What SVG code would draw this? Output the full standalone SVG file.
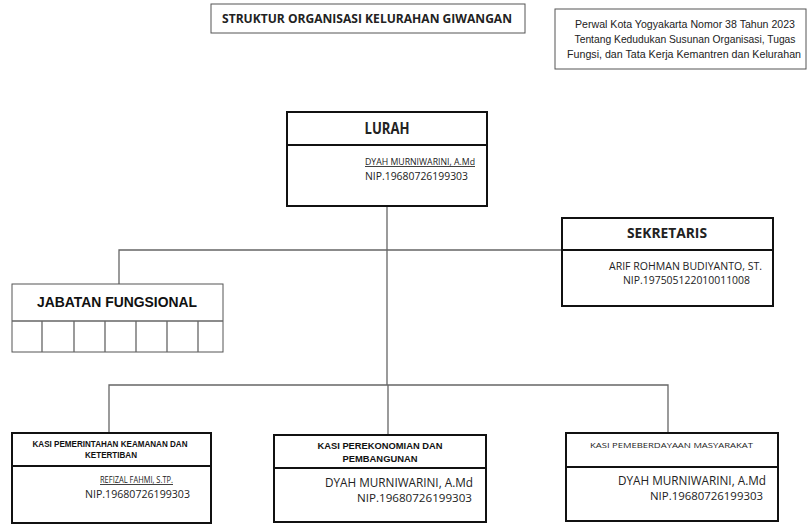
<svg xmlns="http://www.w3.org/2000/svg" width="809" height="524" viewBox="0 0 809 524">
<style>
.box{fill:#fff;stroke:#111;stroke-width:2}
.thin{fill:#fff;stroke:#555;stroke-width:1}
.conn{fill:none;stroke:#666;stroke-width:1.3}
.c{font-family:"Open Sans","Liberation Sans",sans-serif;fill:#222}
.p{font-family:"Liberation Sans",Arial,sans-serif;fill:#222;font-size:10.3px}
.a{font-family:"Liberation Sans",Arial,sans-serif;font-weight:bold;fill:#111}
</style>
<rect width="809" height="524" fill="#fff"/>
<g id="title">
<rect class="thin" x="211" y="4" width="314" height="29"/>
<text class="c" x="367" y="23" font-size="12.5" font-weight="bold" text-anchor="middle" textLength="290" lengthAdjust="spacingAndGlyphs">STRUKTUR ORGANISASI KELURAHAN GIWANGAN</text>
</g>
<g id="perwal">
<rect class="thin" x="555" y="9" width="251" height="60"/>
<text class="p" text-anchor="middle" x="685" y="28" textLength="220" lengthAdjust="spacingAndGlyphs">Perwal Kota Yogyakarta Nomor 38 Tahun 2023</text>
<text class="p" text-anchor="middle" x="685" y="43" textLength="221" lengthAdjust="spacingAndGlyphs">Tentang Kedudukan Susunan Organisasi, Tugas</text>
<text class="p" text-anchor="middle" x="684" y="58" textLength="234" lengthAdjust="spacingAndGlyphs">Fungsi, dan Tata Kerja Kemantren dan Kelurahan</text>
</g>
<g id="connectors">
<path class="conn" d="M387 206V385M119 284V250H562M109 433V385H668V433M388 385V435"/>
</g>
<g id="lurah">
<rect class="box" x="287" y="112" width="200" height="94"/>
<line class="box" x1="287" y1="145" x2="487" y2="145"/>
<text class="c" x="387" y="134" font-size="16" font-weight="bold" text-anchor="middle" textLength="45" lengthAdjust="spacingAndGlyphs">LURAH</text>
<text class="c" x="365" y="165" font-size="8.5" text-decoration="underline" textLength="110" lengthAdjust="spacingAndGlyphs">DYAH MURNIWARINI, A.Md</text>
<text class="c" x="365" y="180" font-size="11.5" textLength="103" lengthAdjust="spacingAndGlyphs">NIP.19680726199303</text>
</g>
<g id="sekretaris">
<rect class="box" x="562" y="218" width="211" height="88"/>
<line class="box" x1="562" y1="250" x2="773" y2="250"/>
<text class="c" x="667" y="238" font-size="15" font-weight="bold" text-anchor="middle" textLength="80" lengthAdjust="spacingAndGlyphs">SEKRETARIS</text>
<text class="c" x="609" y="270" font-size="11" textLength="153" lengthAdjust="spacingAndGlyphs">ARIF ROHMAN BUDIYANTO, ST.</text>
<text class="c" x="623" y="284" font-size="11" textLength="127" lengthAdjust="spacingAndGlyphs">NIP.197505122010011008</text>
</g>
<g id="jabatan">
<rect class="thin" x="12" y="284" width="211" height="68" stroke="#333"/>
<path class="conn" stroke="#444" d="M12 321H223M42 321V352M74 321V352M105 321V352M136 321V352M167 321V352M198 321V352"/>
<text class="a" x="117" y="307" font-size="15" text-anchor="middle" textLength="160" lengthAdjust="spacingAndGlyphs">JABATAN FUNGSIONAL</text>
</g>
<g id="kasi1">
<rect class="box" x="12" y="433" width="199" height="90"/>
<line class="box" x1="12" y1="466" x2="211" y2="466"/>
<text class="a" font-size="9" text-anchor="middle" x="110" y="447" textLength="155" lengthAdjust="spacingAndGlyphs">KASI PEMERINTAHAN KEAMANAN DAN</text>
<text class="a" font-size="9" text-anchor="middle" x="111" y="458" textLength="52" lengthAdjust="spacingAndGlyphs">KETERTIBAN</text>
<text class="c" x="100" y="483" font-size="8.5" text-decoration="underline" textLength="73" lengthAdjust="spacingAndGlyphs">REFIZAL FAHMI, S.TP.</text>
<text class="c" x="85" y="498" font-size="11.5" textLength="105" lengthAdjust="spacingAndGlyphs">NIP.19680726199303</text>
</g>
<g id="kasi2">
<rect class="box" x="274" y="435" width="212" height="87"/>
<line class="box" x1="274" y1="468" x2="486" y2="468"/>
<text class="a" font-size="9" text-anchor="middle" x="380" y="449" textLength="125" lengthAdjust="spacingAndGlyphs">KASI PEREKONOMIAN DAN</text>
<text class="a" font-size="9" text-anchor="middle" x="380" y="462" textLength="75" lengthAdjust="spacingAndGlyphs">PEMBANGUNAN</text>
<text class="c" x="325" y="487" font-size="12" textLength="148" lengthAdjust="spacingAndGlyphs">DYAH MURNIWARINI, A.Md</text>
<text class="c" x="357" y="502" font-size="11.5" textLength="115" lengthAdjust="spacingAndGlyphs">NIP.19680726199303</text>
</g>
<g id="kasi3">
<rect class="box" x="566" y="433" width="212" height="88"/>
<line class="box" x1="566" y1="467" x2="778" y2="467"/>
<text class="c" x="590" y="448" font-size="8" textLength="163" lengthAdjust="spacingAndGlyphs">KASI PEMEBERDAYAAN MASYARAKAT</text>
<text class="c" x="618" y="485" font-size="12" textLength="148" lengthAdjust="spacingAndGlyphs">DYAH MURNIWARINI, A.Md</text>
<text class="c" x="650" y="500" font-size="11.5" textLength="113" lengthAdjust="spacingAndGlyphs">NIP.19680726199303</text>
</g>
</svg>
